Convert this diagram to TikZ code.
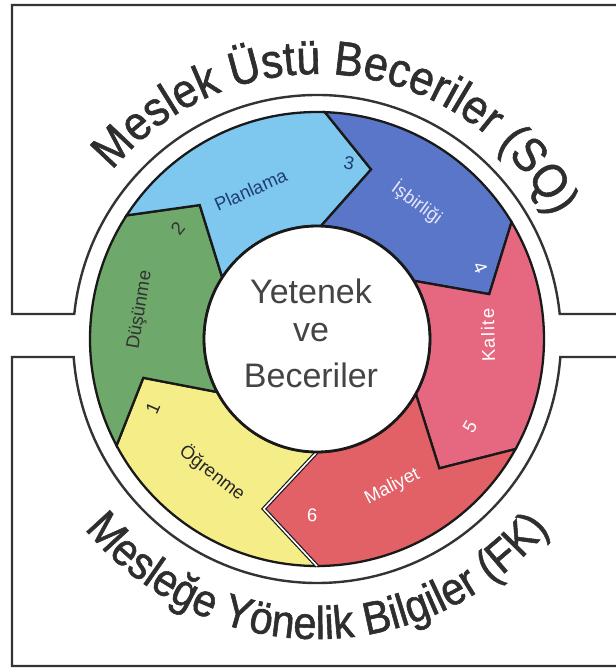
\documentclass[tikz,border=0pt]{standalone}
\usepackage{fontspec}
\setmainfont{Liberation Sans}
\newfontfamily\titlefont[FakeStretch=0.9, FakeBold=1.2]{Liberation Sans}
\newfontfamily\spacedfont[LetterSpace=8]{Liberation Sans}
\usetikzlibrary{decorations.text}
\definecolor{cYel}{HTML}{F5EE88}
\definecolor{cGrn}{HTML}{6EA86A}
\definecolor{cLbl}{HTML}{7EC7EF}
\definecolor{cBlu}{HTML}{5A76C8}
\definecolor{cKal}{HTML}{E66880}
\definecolor{cMal}{HTML}{E16167}
\definecolor{cTxt}{HTML}{2E2E2E}
\definecolor{cCtr}{HTML}{444444}
\definecolor{cPlan}{HTML}{1F3F6F}
\newcommand\ringseg[5]{%
  \filldraw[segline, fill=#1] (#2:227) -- (#3:178) -- (#2:113)
    arc[start angle=#2, end angle=#4, radius=113] -- (#5:178) -- (#4:227)
    arc[start angle=#4, end angle=#2, radius=227] -- cycle;}
\begin{document}
\begin{tikzpicture}[x=1pt,y=1pt,
  frame/.style={draw=black!80, line width=2.4pt},
  segline/.style={draw=black!90, line width=2.3pt, line join=miter},
  lbl/.style={font=\fontsize{18.5}{18.5}\selectfont, inner sep=0pt},
  ctr/.style={font=\fontsize{34}{34}\selectfont, text=cCtr, inner sep=0pt}]
\useasboundingbox (-317,-331) rectangle (299,339);
% frames (open to the right edge)
\draw[frame] (310,25) -- (5.88:244)
  arc[start angle=5.88, end angle=174.12, radius=244] -- (-305,25) -- (-305,334) -- (310,334);
\draw[frame] (310,-18) -- (-4.23:244)
  arc[start angle=-4.23, end angle=-175.77, radius=244] -- (-305,-18) -- (-305,-327) -- (310,-327);
% curved titles
\path[decorate, decoration={text along path, text align=center, text color=cTxt,
  text={|\titlefont\fontsize{48}{48}\selectfont|Meslek Üstü Beceriler (SQ)}}]
  (159:265) arc[start angle=159, end angle=9, radius=265];
\path[decorate, decoration={text along path, text align=center, text color=cTxt,
  text={|\titlefont\fontsize{46}{46}\selectfont|Mesleğe Yönelik Bilgiler (FK)}}]
  (195:300) arc[start angle=195, end angle=345, radius=300];
% ring segments (tail base, tail tip, head base, head tip)
\ringseg{cYel}{270}{252.6}{208}{192.6}
\ringseg{cGrn}{208}{192.6}{147}{131.2}
\ringseg{cLbl}{147}{131.2}{88}{72.3}
\ringseg{cBlu}{88}{72.3}{31}{14.6}
\ringseg{cKal}{31}{14.6}{-29}{-46.6}
\ringseg{cMal}{-29}{-46.6}{-90}{-107.4}
\draw[black!90, line width=1.2pt, double=white, double distance=1.6pt, line join=miter]
  (-90:227) -- (-107.4:178) -- (-90:113);
% centre
\filldraw[fill=white, draw=black!90, line width=2.8pt] (0,0) circle[radius=113];
\node[ctr] (c1) at (-6,48) {Yetenek};
\node[ctr] (c2) at (-6,6) {ve};
\node[ctr] (c3) at (-6,-36) {Beceriler};
% labels
\node[lbl, text=black!85, rotate=-38] (l1) at (232:170) {Öğrenme};
\node[lbl, text=black!85, rotate=66] (n1) at (202.8:178) {1};
\node[lbl, text=black!80, rotate=80.7] (l2) at (170.7:179) {Düşünme};
\node[lbl, text=black!80, rotate=51.4] (n2) at (141.4:178) {2};
\node[lbl, text=cPlan, rotate=24] (l3) at (114:163) {Planlama};
\node[lbl, text=cPlan, rotate=-10.3] (n3) at (79.7:179) {3};
\node[lbl, text=white!90!blue, rotate=-36.3] (l4) at (53.7:169) {İşbirliği};
\node[lbl, text=white, rotate=-66.5] (n4) at (23.5:178) {4};
\node[lbl, text=white, rotate=91.3, font=\spacedfont\fontsize{18.5}{18.5}\selectfont] (l5) at (1.3:171) {Kalite};
\node[lbl, text=white, rotate=60] (n5) at (-29.9:176.5) {5};
\node[lbl, text=white, rotate=27] (l6) at (-63:166) {Maliyet};
\node[lbl, text=white, rotate=-1.6] (n6) at (-91.6:176) {6};
\end{tikzpicture}
\end{document}
